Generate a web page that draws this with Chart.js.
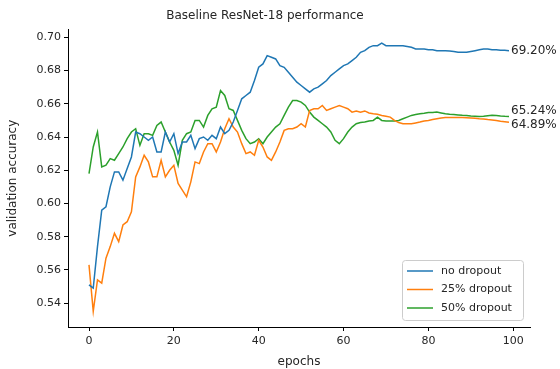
<!DOCTYPE html>
<html>
<head>
<meta charset="utf-8">
<script src="https://cdn.jsdelivr.net/npm/chart.js@4"></script>
<style>
  body { margin: 0; background: #fff; }
  #wrap { width: 560px; height: 369px; }
</style>
</head>
<body>
<div id="wrap"><canvas id="chart" width="560" height="369"></canvas></div>
<script>
// data
const epochs = Array.from({ length: 100 }, (_, i) => i);

const noDropout = [
  0.551, 0.549, 0.574, 0.596, 0.598, 0.610, 0.619, 0.619, 0.614, 0.621,
  0.628, 0.643, 0.642, 0.640, 0.638, 0.640, 0.631, 0.631, 0.643, 0.637,
  0.642, 0.630, 0.637, 0.637, 0.641, 0.633, 0.639, 0.640, 0.638, 0.641,
  0.639, 0.646, 0.642, 0.644, 0.649, 0.656, 0.663, 0.665, 0.667, 0.674,
  0.682, 0.684, 0.689, 0.688, 0.687, 0.683, 0.682, 0.679, 0.676, 0.673,
  0.671, 0.669, 0.667, 0.669, 0.670, 0.672, 0.674, 0.677, 0.679, 0.681,
  0.683, 0.684, 0.686, 0.688, 0.691, 0.692, 0.694, 0.695, 0.695, 0.6965,
  0.695, 0.695, 0.695, 0.695, 0.695, 0.6945, 0.694, 0.693, 0.693, 0.693,
  0.6925, 0.6925, 0.692, 0.692, 0.692, 0.6918, 0.6915, 0.691, 0.691, 0.691,
  0.6915, 0.692, 0.6925, 0.693, 0.693, 0.6925, 0.6925, 0.6922, 0.6922, 0.692,
];

const dropout25 = [
  0.563, 0.535, 0.554, 0.552, 0.567, 0.574, 0.582, 0.577, 0.587, 0.589,
  0.595, 0.616, 0.622, 0.629, 0.625, 0.616, 0.616, 0.626, 0.616, 0.620,
  0.623, 0.612, 0.608, 0.604, 0.613, 0.625, 0.624, 0.631, 0.636, 0.636,
  0.631, 0.637, 0.645, 0.651, 0.646, 0.643, 0.636, 0.630, 0.631, 0.629,
  0.638, 0.634, 0.628, 0.626, 0.631, 0.637, 0.644, 0.645, 0.645, 0.646,
  0.648, 0.646, 0.656, 0.657, 0.657, 0.659, 0.656, 0.657, 0.658, 0.659,
  0.658, 0.657, 0.655, 0.6557, 0.655, 0.6557, 0.6545, 0.654, 0.6537, 0.653,
  0.6525, 0.652, 0.650, 0.6487, 0.648, 0.648, 0.648, 0.6485, 0.649, 0.6497,
  0.650, 0.6505, 0.651, 0.6515, 0.6517, 0.6518, 0.6518, 0.6517, 0.6517, 0.6516,
  0.6515, 0.6513, 0.651, 0.6508, 0.6505, 0.6503, 0.650, 0.6495, 0.6492, 0.6489,
];

const dropout50 = [
  0.618, 0.634, 0.643, 0.622, 0.623, 0.627, 0.626, 0.630, 0.634, 0.639,
  0.643, 0.645, 0.635, 0.642, 0.642, 0.641, 0.647, 0.649, 0.643, 0.637,
  0.632, 0.623, 0.638, 0.642, 0.643, 0.650, 0.650, 0.646, 0.653, 0.657,
  0.658, 0.668, 0.665, 0.657, 0.656, 0.650, 0.644, 0.639, 0.636, 0.637,
  0.639, 0.636, 0.640, 0.643, 0.646, 0.648, 0.653, 0.658, 0.662, 0.662,
  0.661, 0.659, 0.655, 0.652, 0.650, 0.648, 0.646, 0.643, 0.638, 0.636,
  0.639, 0.643, 0.646, 0.648, 0.6487, 0.649, 0.6497, 0.650, 0.652, 0.650,
  0.6497, 0.6497, 0.6497, 0.650, 0.651, 0.652, 0.653, 0.6535, 0.654, 0.6543,
  0.6547, 0.6547, 0.655, 0.6545, 0.654, 0.6537, 0.6535, 0.6533, 0.6531, 0.653,
  0.6527, 0.6525, 0.6523, 0.6525, 0.6528, 0.6531, 0.653, 0.6527, 0.6525, 0.6524,
];

const seriesNames = ["no dropout", "25% dropout", "50% dropout"];
const endLabels = ["69.20%", "64.89%", "65.24%"];
const xTicks = [0, 20, 40, 60, 80, 100];
const yTicks = [0.54, 0.56, 0.58, 0.60, 0.62, 0.64, 0.66, 0.68, 0.70];

// styles
const colors = ["#1f77b4", "#ff7f0e", "#2ca02c"];
const labelOffsets = [0, 3, -6]; // px nudges so the end labels don't collide
const textColor = "#262626";
const fontFamily = "'DejaVu Sans', sans-serif";

const toPoints = (values) => values.map((v, i) => ({ x: epochs[i], y: v }));

// draws the percentage at the end of each line
const endLabelPlugin = {
  id: "endLabels",
  afterDatasetsDraw(chart) {
    const { ctx, scales } = chart;
    ctx.save();
    ctx.font = `12px ${fontFamily}`;
    ctx.fillStyle = textColor;
    ctx.textBaseline = "middle";
    ctx.textAlign = "left";
    chart.data.datasets.forEach((ds, i) => {
      const last = ds.data[ds.data.length - 1];
      const px = scales.x.getPixelForValue(last.x) + 2;
      const py = scales.y.getPixelForValue(last.y) + labelOffsets[i];
      ctx.fillText(endLabels[i], px, py);
    });
    ctx.restore();
  },
};

// matplotlib-like legend box in the lower right of the plot
const boxLegendPlugin = {
  id: "boxLegend",
  afterDraw(chart) {
    const { ctx, chartArea } = chart;
    const w = 121, h = 60;
    const x = chartArea.right - w - 7;
    const y = chartArea.bottom - h - 7;
    ctx.save();
    ctx.fillStyle = "rgba(255,255,255,0.8)";
    ctx.strokeStyle = "#cccccc";
    ctx.lineWidth = 1;
    ctx.beginPath();
    ctx.roundRect(x + 0.5, y + 0.5, w, h, 3);
    ctx.fill();
    ctx.stroke();
    ctx.font = `11px ${fontFamily}`;
    ctx.textBaseline = "middle";
    ctx.textAlign = "left";
    chart.data.datasets.forEach((ds, i) => {
      const rowY = y + 11 + i * 18.5;
      ctx.strokeStyle = colors[i];
      ctx.lineWidth = 1.5;
      ctx.beginPath();
      ctx.moveTo(x + 5, rowY);
      ctx.lineTo(x + 31, rowY);
      ctx.stroke();
      ctx.fillStyle = textColor;
      ctx.fillText(ds.label, x + 39, rowY);
    });
    ctx.restore();
  },
};

const chartConfig = {
  type: "line",
  data: {
    datasets: seriesNames.map((name, i) => ({
      label: name,
      data: toPoints([noDropout, dropout25, dropout50][i]),
      borderColor: colors[i],
      backgroundColor: colors[i],
      borderWidth: 1.5,
      pointRadius: 0,
      tension: 0,
    })),
  },
  options: {
    responsive: false,
    animation: false,
    layout: { padding: { top: 0, right: 30, left: 0, bottom: 0 } },
    plugins: {
      legend: { display: false },
      tooltip: { enabled: false },
      title: {
        display: true,
        text: "Baseline ResNet-18 performance",
        color: textColor,
        font: { family: fontFamily, size: 12, weight: "normal" },
        padding: { top: 9, bottom: 6 },
      },
    },
    scales: {
      x: {
        type: "linear",
        min: -4.95,
        max: 103.95,
        afterBuildTicks: (scale) => {
          scale.ticks = xTicks.map((v) => ({ value: v }));
        },
        afterFit: (scale) => {
          scale.height = 42;
        },
        grid: { drawOnChartArea: false, drawTicks: true, tickLength: 4, color: "#000" },
        border: { color: "#000", width: 1 },
        ticks: {
          color: textColor,
          font: { family: fontFamily, size: 11 },
          padding: 4,
          maxRotation: 0,
        },
        title: {
          display: true,
          text: "epochs",
          color: textColor,
          font: { family: fontFamily, size: 12 },
          padding: { top: 0, bottom: 0 },
        },
      },
      y: {
        min: 0.5256,
        max: 0.7048,
        afterBuildTicks: (scale) => {
          scale.ticks = yTicks.map((v) => ({ value: v }));
        },
        afterFit: (scale) => {
          scale.width = 68;
        },
        grid: { drawOnChartArea: false, drawTicks: true, tickLength: 4, color: "#000" },
        border: { color: "#000", width: 1 },
        ticks: {
          color: textColor,
          font: { family: fontFamily, size: 11 },
          padding: 3,
          callback: (v) => v.toFixed(2),
        },
        title: {
          display: true,
          text: "validation accuracy",
          color: textColor,
          font: { family: fontFamily, size: 12 },
          padding: { top: 6, bottom: 0 },
        },
      },
    },
  },
  plugins: [endLabelPlugin, boxLegendPlugin],
};

const ctx = document.querySelector("#chart").getContext("2d");
new Chart(ctx, chartConfig);
</script>
</body>
</html>
